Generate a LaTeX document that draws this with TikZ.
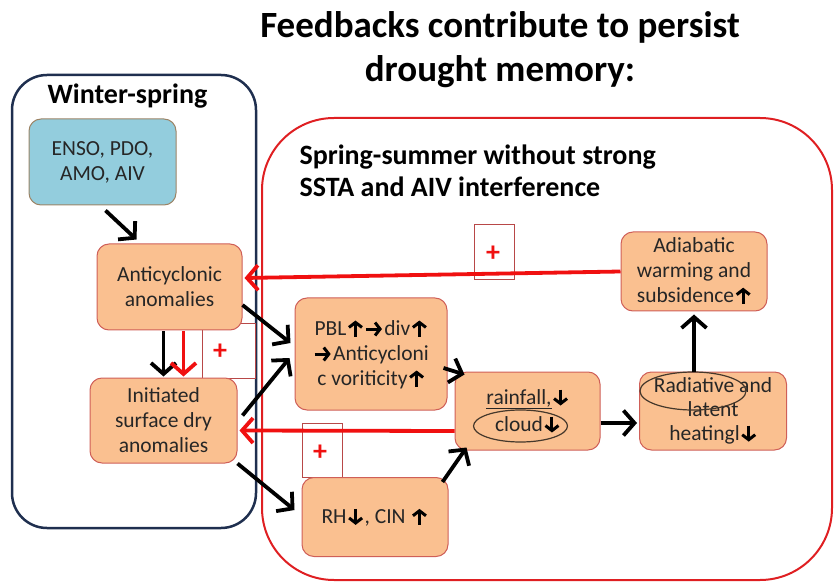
\documentclass[tikz,border=0pt]{standalone}
\usepackage{fontspec}
\setmainfont{Carlito}
\usetikzlibrary{arrows.meta,calc}

\definecolor{boxfill}{HTML}{FAC090}
\definecolor{boxline}{HTML}{CF5F58}
\definecolor{ensofill}{HTML}{93CDDD}
\definecolor{ensoline}{HTML}{9C8466}
\definecolor{navyline}{HTML}{1F2F4F}
\definecolor{framered}{HTML}{DF1F22}
\definecolor{arrred}{HTML}{F01010}
\definecolor{plusline}{HTML}{B84848}
\definecolor{textc}{HTML}{262626}

% small thick arrows inside the texts
\newcommand\arrup{\hspace{1pt}\tikz[baseline=0pt,x=1pt,y=1pt]\draw[black,line width=3pt,-{Straight Barb[length=5pt,width=13pt]}] (0,-1) -- (0,15);\hspace{1pt}}
\newcommand\arrdn{\hspace{1pt}\tikz[baseline=0pt,x=1pt,y=1pt]\draw[black,line width=3pt,-{Straight Barb[length=5pt,width=13pt]}] (0,15) -- (0,-1);\hspace{1pt}}
\newcommand\arrrt{\tikz[baseline=0pt,x=1pt,y=1pt]\draw[black,line width=3pt,-{Straight Barb[length=5pt,width=13pt]}] (0,6.5) -- (16,6.5);\hspace{1pt}}

\tikzset{
  box/.style={draw=boxline, line width=1pt, fill=boxfill, rounded corners=12pt,
    align=center, text=textc, font=\fontsize{21.5}{25}\selectfont, inner sep=2pt},
  plusbox/.style={draw=plusline, line width=0.8pt, fill=white, inner sep=0pt},
  plussign/.style={text=arrred, font=\bfseries\fontsize{28}{28}\selectfont},
  blk/.style={line width=3.8pt, -{Straight Barb[length=11pt,width=25pt]}},
  redarr/.style={arrred, line width=3.8pt, -{Straight Barb[length=11pt,width=25pt]}},
}

\begin{document}
\begin{tikzpicture}[x=1pt,y=-1pt]
		%%%%% START %%%%%
		\useasboundingbox (0,0) rectangle (838,585);
		
		\node[font=\bfseries\fontsize{37}{44}\selectfont, align=center] (title) at (500,50) {Feedbacks contribute to persist\\drought memory:};
		
		\draw[navyline, line width=2.5pt, rounded corners=35pt] (12,75) rectangle (256,528);
		\draw[framered, line width=2pt, rounded corners=72pt] (262,118) rectangle (832,580);
		
		\node[font=\bfseries\fontsize{28}{30}\selectfont, anchor=west] (winter) at (44,96) {Winter-spring};
		\node[font=\bfseries\fontsize{28}{32}\selectfont, anchor=west, align=left] (summer) at (296,171) {Spring-summer without strong\\SSTA and AIV interference};
		
		\node[plusbox, minimum width=53pt, minimum height=55pt] (p1) at (228.5,350.5) {};
		\node[plussign] (s1) at (220,352) {+};
		\node[plusbox, minimum width=40pt, minimum height=55pt] (p2) at (494,251.5) {};
		\node[plussign] (s2) at (493,254) {+};
		\node[plusbox, minimum width=40pt, minimum height=54pt] (p3) at (322,450) {};
		\node[plussign] (s3) at (320,453) {+};
		
		\node[box, draw=ensoline, fill=ensofill, minimum width=147pt, minimum height=86pt] (enso) at (102.5,162) {ENSO, PDO,\\AMO, AIV};
		\node[box, minimum width=145pt, minimum height=86pt] (anti) at (169.5,287) {Anticyclonic\\anomalies};
		\node[box, minimum width=147pt, minimum height=85pt] (init) at (163.5,420.5) {Initiated\\surface dry\\anomalies};
		\node[box, minimum width=152pt, minimum height=112pt] (pbl) at (371,354) {PBL\arrup\arrrt div\arrup\\\arrrt Anticycloni\\c voriticity\arrup};
		\node[box, minimum width=145pt, minimum height=78pt, font=\fontsize{21.5}{27}\selectfont] (rain) at (527.5,411) {\underline{rainfall,}\arrdn\\cloud\arrdn};
		\node[box, minimum width=147pt, minimum height=78pt, font=\fontsize{21.5}{24}\selectfont] (rad) at (713,411) {Radiative and\\latent\\heatingl\arrdn};
		\node[box, minimum width=146pt, minimum height=79pt] (adia) at (694,271.5) {Adiabatic\\warming and\\subsidence\arrup};
		\node[box, minimum width=146pt, minimum height=79pt] (rh) at (375,517) {RH\arrdn, CIN \arrup};
		
		\draw[textc!80!brown, line width=1.2pt] ($(rain.center)+(-7,15)$) ellipse [x radius=47pt, y radius=16pt];
		\draw[textc!80!brown, line width=1.2pt] ($(rad.center)+(-20,-20)$) ellipse [x radius=53pt, y radius=19pt];
		
		\draw[blk] ($(enso.south)+(3,5)$) -- ($(anti.north)+(-33,-4)$);
		\draw[blk] ($(anti.south)+(-6,1)$) -- ($(init.north)+(0,-1)$);
		\draw[redarr] ($(anti.south)+(14,1)$) -- ($(init.north)+(20,-1)$);
		\draw[blk] ($(anti.east)+(0,18)$) -- ($(pbl.west)+(-4,-11)$);
		\draw[blk] ($(init.east)+(5,-5)$) -- ($(pbl.west)+(-5,4)$);
		\draw[blk] ($(init.south east)+(0,0)$) -- ($(rh.west)+(-7,-7)$);
		\draw[blk] ($(pbl.east)+(-4,14)$) -- ($(rain.north west)+(10,3)$);
		\draw[blk] ($(rh.north east)+(-6,5)$) -- ($(rain.south west)+(12,-3)$);
		\draw[blk] ($(rain.east)+(0,12)$) -- ($(rad.west)+(-2,12)$);
		\draw[blk] ($(rad.north)+(-19,0)$) -- ($(adia.south)+(0,3)$);
		
		\draw[redarr] (adia.west) -- ($(anti.east)+(2,-9)$);
		\draw[redarr] ($(rain.west)+(0,20)$) -- ($(init.east)+(2,10)$);
		
		%%%%% END %%%%%
\end{tikzpicture}
\end{document}
